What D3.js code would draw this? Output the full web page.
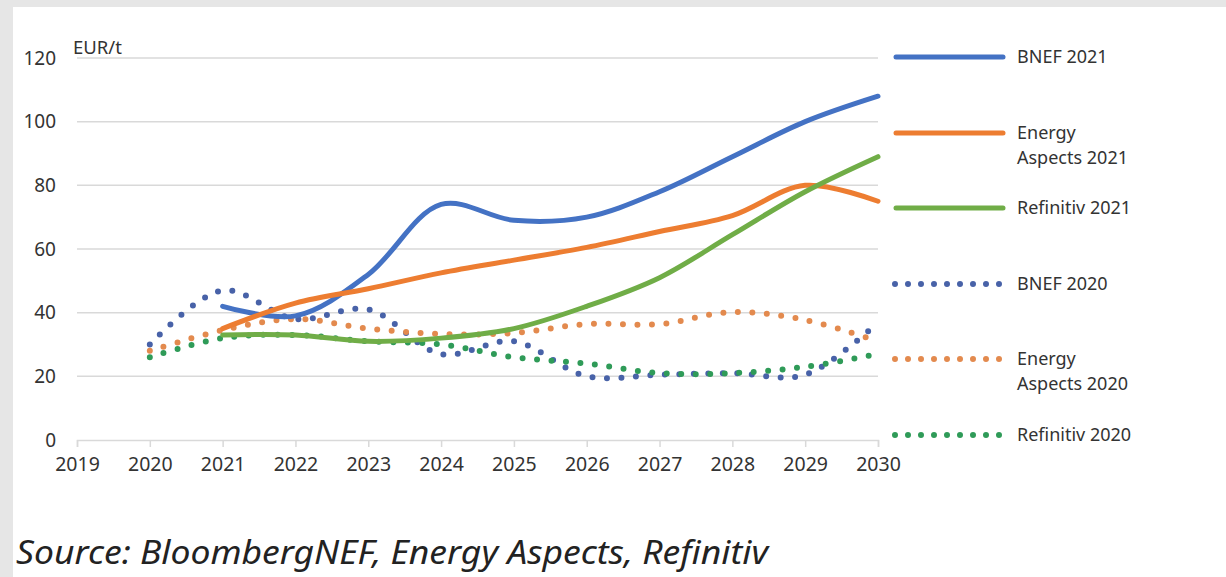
<!DOCTYPE html>
<html><head><meta charset="utf-8">
<script src="https://cdn.jsdelivr.net/npm/d3@7/dist/d3.min.js"></script>
<style>
html,body{margin:0;padding:0;background:#e6e6e6;}
svg{display:block;}
</style></head>
<body>
<svg id="c" width="1226" height="577"></svg>
<script>
// ---- data ----
const years = [2019,2020,2021,2022,2023,2024,2025,2026,2027,2028,2029,2030];
const yTicks = [0,20,40,60,80,100,120];
const unitLabel = "EUR/t";
const sourceText = "Source: BloombergNEF, Energy Aspects, Refinitiv";

const yearsFrom2020 = [2020,2021,2022,2023,2024,2025,2026,2027,2028,2029,2030];
const yearsFrom2021 = [2021,2022,2023,2024,2025,2026,2027,2028,2029,2030];

const bnef2021      = [42,39,52,74,69,70,78,89,100,108];
const energyAsp2021 = [35,43,47.5,52.5,56.5,60.5,65.5,70.5,80,75];
const refinitiv2021 = [33,33,31,32,35,42,51,64.5,78,89];

const bnef2020      = [30,47,38,41,27,31,20,20.5,21,20.5,37];
const energyAsp2020 = [28,34.5,38,35,33.3,33.6,36.4,36.4,40.2,37.7,31];
const refinitiv2020 = [26,32,33,31,30,26,24,21,21,23,27];

const seriesNames = ["BNEF 2021","Energy\nAspects 2021","Refinitiv 2021","BNEF 2020","Energy\nAspects 2020","Refinitiv 2020"];

const series = [
  {name:seriesNames[0], xs:yearsFrom2021, vals:bnef2021,      color:"#4472c4", dotted:false},
  {name:seriesNames[1], xs:yearsFrom2021, vals:energyAsp2021, color:"#ed7d31", dotted:false},
  {name:seriesNames[2], xs:yearsFrom2021, vals:refinitiv2021, color:"#70ad47", dotted:false},
  {name:seriesNames[3], xs:yearsFrom2020, vals:bnef2020,      color:"#4862a8", dotted:true},
  {name:seriesNames[4], xs:yearsFrom2020, vals:energyAsp2020, color:"#e38a4e", dotted:true},
  {name:seriesNames[5], xs:yearsFrom2020, vals:refinitiv2020, color:"#2f9b58", dotted:true}
];

// ---- drawing ----
const svg = d3.select("#c");
svg.append("rect").attr("x",13).attr("y",7).attr("width",1226-13).attr("height",577-7).attr("fill","#ffffff");

const x = d3.scaleLinear().domain([2019,2030]).range([77,878]);
const y = d3.scaleLinear().domain([0,120]).range([440,58]);

const font = "'Noto Sans', 'Open Sans', sans-serif";
const txt = "#333333";

// gridlines
svg.append("g").selectAll("line").data(yTicks.filter(d=>d>0)).join("line")
  .attr("x1",x(2019)).attr("x2",x(2030))
  .attr("y1",d=>y(d)).attr("y2",d=>y(d))
  .attr("stroke","#d9d9d9").attr("stroke-width",1.5);

// y labels
svg.append("g").selectAll("text").data(yTicks).join("text")
  .attr("x",56).attr("y",d=>y(d)).attr("dy","0.35em")
  .attr("text-anchor","end").attr("font-family",font).attr("font-size",19)
  .attr("fill",txt).text(d=>d);

// x axis
const xAxis = d3.axisBottom(x).tickValues(years).tickFormat(d3.format("d")).tickSize(7).tickPadding(10);
const gx = svg.append("g").attr("transform",`translate(0,${y(0)})`).call(xAxis);
gx.select(".domain").attr("stroke","#d9d9d9").attr("stroke-width",1.5);
gx.selectAll(".tick line").attr("stroke","#d9d9d9").attr("stroke-width",1.5);
gx.selectAll(".tick text").attr("font-family",font).attr("font-size",19.5).attr("fill",txt);

// unit label
svg.append("text").attr("x",73).attr("y",54).attr("font-family",font).attr("font-size",18.5)
  .attr("fill",txt).text(unitLabel);

// lines
const line = d3.line().x(d=>x(d[0])).y(d=>y(d[1])).curve(d3.curveCatmullRom.alpha(0.5));
const drawOrder = [3,4,5,0,1,2];
drawOrder.forEach(i=>{
  const s = series[i];
  const pts = s.xs.map((xx,j)=>[xx,s.vals[j]]);
  svg.append("path").attr("d",line(pts)).attr("fill","none")
    .attr("stroke",s.color).attr("stroke-linecap","round").attr("stroke-linejoin","round")
    .attr("stroke-width",s.dotted?6:5)
    .attr("stroke-dasharray",s.dotted?"0 14.5":null);
});

// legend
const legendY = [57,133,208,284,359,435];
series.forEach((s,i)=>{
  const ly = legendY[i];
  svg.append("line").attr("x1",s.dotted?895:896).attr("x2",s.dotted?1000:1003)
    .attr("y1",ly).attr("y2",ly).attr("stroke",s.color)
    .attr("stroke-width",s.dotted?6:5).attr("stroke-linecap","round")
    .attr("stroke-dasharray",s.dotted?"0 13":null);
  const lines = s.name.split("\n");
  lines.forEach((t,k)=>{
    svg.append("text").attr("x",1017).attr("y",ly+k*25).attr("dy","0.35em")
      .attr("font-family",font).attr("font-size",18).attr("fill","#333")
      .text(t);
  });
});

// source
svg.append("text").attr("x",16).attr("y",564).attr("font-family",font)
  .attr("font-style","italic").attr("font-size",32).attr("fill","#222")
  .attr("textLength",752).attr("lengthAdjust","spacingAndGlyphs")
  .text(sourceText);
</script>
</body></html>
